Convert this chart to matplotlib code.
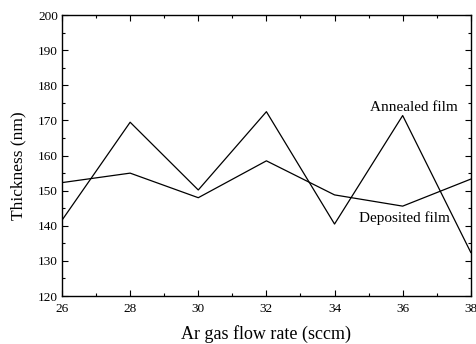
import matplotlib
matplotlib.use('Agg')
import matplotlib.pyplot as plt
from matplotlib.ticker import MultipleLocator

plt.rcParams.update({
    'font.family': ['Liberation Serif', 'DejaVu Serif'],
    'xtick.direction': 'in',
    'ytick.direction': 'in',
    'xtick.top': True,
    'ytick.right': True,
})

# Film thickness vs Ar flow rate
flow_rate = [26, 28, 30, 32, 34, 36, 38]
annealed = [141.6, 169.5, 150.2, 172.5, 140.5, 171.4, 132.4]
deposited = [152.3, 155.0, 148.0, 158.5, 148.8, 145.6, 153.3]

fig = plt.figure(figsize=(4.77, 3.44), dpi=100)
ax = fig.add_axes([0.130, 0.1395, 0.857, 0.8165])

ax.plot(flow_rate, annealed, color='black', linewidth=0.9)
ax.plot(flow_rate, deposited, color='black', linewidth=0.9)

ax.text(35.04, 173.8, 'Annealed film', fontsize=11, va='center', ha='left')
ax.text(34.73, 142.2, 'Deposited film', fontsize=11, va='center', ha='left')

ax.set_xlim(26, 38)
ax.set_ylim(120, 200)
ax.xaxis.set_major_locator(MultipleLocator(2))
ax.xaxis.set_minor_locator(MultipleLocator(1))
ax.yaxis.set_major_locator(MultipleLocator(10))
ax.yaxis.set_minor_locator(MultipleLocator(5))
ax.tick_params(which='major', length=4, width=0.8, labelsize=9.5)
ax.tick_params(axis='x', which='major', pad=5)
ax.tick_params(axis='y', which='major', pad=3)
ax.tick_params(which='minor', length=2.5, width=0.8)
for s in ax.spines.values():
    s.set_linewidth(1.0)

ax.set_xlabel('Ar gas flow rate (sccm)', fontsize=13, labelpad=7)
ax.set_ylabel('Thickness (nm)', fontsize=12.5)
ax.yaxis.set_label_coords(-0.086, 0.465)

fig.savefig('out.png', dpi=100)
